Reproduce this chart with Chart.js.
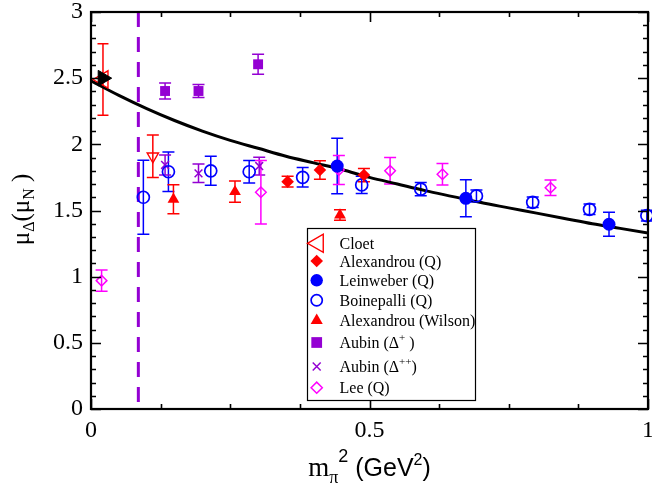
<!DOCTYPE html>
<html><head><meta charset="utf-8">
<script src="https://cdn.jsdelivr.net/npm/chart.js@4.4.1/dist/chart.umd.min.js"></script>
<style>html,body{margin:0;padding:0;background:#fff;overflow:hidden}#wrap{width:652px;height:489px}</style>
</head><body><div id="wrap"><canvas id="c" width="652" height="489"></canvas></div>
<script>
// ---------- data ----------
const physX = [0.021], physY = [2.50];
const cloetX = [0.0215], cloetY = [2.49], cloetErr = [0.27];
const cloetDownX = [0.111], cloetDownY = [1.91], cloetDownErr = [0.16];
const alexQX = [0.353, 0.411, 0.490], alexQY = [1.718, 1.806, 1.768], alexQErr = [0.04, 0.07, 0.05];
const leinX = [0.442, 0.673, 0.930], leinY = [1.836, 1.592, 1.396], leinErr = [0.21, 0.14, 0.09];
const boinX = [0.094, 0.139, 0.215, 0.284, 0.380, 0.486, 0.592, 0.692, 0.793, 0.895, 0.998];
const boinY = [1.60, 1.793, 1.80, 1.793, 1.751, 1.693, 1.662, 1.61, 1.562, 1.509, 1.461];
const boinErr = [0.28, 0.15, 0.11, 0.085, 0.074, 0.065, 0.05, 0.045, 0.04, 0.04, 0.04];
const alexWX = [0.148, 0.2585, 0.447], alexWY = [1.585, 1.642, 1.466], alexWErr = [0.11, 0.08, 0.04];
const aubinPX = [0.133, 0.193, 0.300], aubinPY = [2.403, 2.403, 2.605], aubinPErr = [0.06, 0.05, 0.075];
const aubinPPX = [0.133, 0.193, 0.302], aubinPPY = [1.844, 1.781, 1.836], aubinPPErr = [0.076, 0.07, 0.067];
const leeX = [0.019, 0.305, 0.445, 0.537, 0.631, 0.825];
const leeY = [0.970, 1.638, 1.806, 1.80, 1.774, 1.672];
const leeErr = [0.08, 0.24, 0.11, 0.10, 0.082, 0.058];
const fitX = [0, 0.05, 0.1, 0.15, 0.2, 0.25, 0.3, 0.35, 0.4, 0.45, 0.5, 0.55, 0.6, 0.65, 0.7, 0.75, 0.8, 0.85, 0.9, 0.95, 1.0];
const fitY = [2.48, 2.37, 2.27, 2.18, 2.10, 2.03, 1.97, 1.91, 1.86, 1.81, 1.75, 1.70, 1.65, 1.605, 1.56, 1.52, 1.48, 1.44, 1.40, 1.365, 1.33];
const cutX = [0.085, 0.085], cutY = [3, 0];
const xTickValues = [0, 0.5, 1], xTickLabels = ['0', '0.5', '1'];
const yTickValues = [0, 0.5, 1, 1.5, 2, 2.5, 3], yTickLabels = ['0', '0.5', '1', '1.5', '2', '2.5', '3'];
const legendLabels = ['Cloet', 'Alexandrou (Q)', 'Leinweber (Q)', 'Boinepalli (Q)', 'Alexandrou (Wilson)', 'Aubin (\u0394^{+} )', 'Aubin (\u0394^{++})', 'Lee (Q)'];

// ---------- styles ----------
const RED = '#ff0000', BLUE = '#0000ff', VIOLET = '#9400d3', MAGENTA = '#ff00ff', NONE = 'rgba(0,0,0,0)';
const SERIF = "'Liberation Serif','Times New Roman',serif";
const SANS = "'Liberation Sans',Arial,sans-serif";
const pts = (xs, ys) => xs.map((x, i) => ({x: x, y: ys[i]}));

function marker(o) {
  return Object.assign({showLine: false, clip: false, borderWidth: 0}, o);
}

const datasets = [
  marker({label: 'physical', data: pts(physX, physY), pointStyle: 'triangle', pointRotation: 90, pointRadius: 9,
    pointBackgroundColor: '#000', pointBorderColor: '#000', pointBorderWidth: 1}),
  marker({label: 'Cloet', legendIndex: 0, data: pts(cloetX, cloetY), errors: cloetErr, errColor: RED, cap: 5.5,
    pointStyle: 'triangle', pointRotation: -90, pointRadius: 10, legendRadius: 10.5, legendDx: 1.3,
    pointBackgroundColor: NONE, pointBorderColor: RED, pointBorderWidth: 1.4}),
  marker({label: 'Cloet (2)', data: pts(cloetDownX, cloetDownY), errors: cloetDownErr, errColor: RED,
    pointStyle: 'triangle', pointRotation: 180, pointRadius: 6.5,
    pointBackgroundColor: NONE, pointBorderColor: RED, pointBorderWidth: 1.4}),
  marker({label: 'Alexandrou (Q)', legendIndex: 1, data: pts(alexQX, alexQY), errors: alexQErr, errColor: RED,
    pointStyle: 'rectRot', pointRadius: 6.3, legendRadius: 6.3,
    pointBackgroundColor: RED, pointBorderColor: RED, pointBorderWidth: 0}),
  marker({label: 'Leinweber (Q)', legendIndex: 2, data: pts(leinX, leinY), errors: leinErr, errColor: BLUE,
    pointStyle: 'circle', pointRadius: 6.5, legendRadius: 6.2,
    pointBackgroundColor: BLUE, pointBorderColor: BLUE, pointBorderWidth: 0}),
  marker({label: 'Boinepalli (Q)', legendIndex: 3, data: pts(boinX, boinY), errors: boinErr, errColor: BLUE,
    pointStyle: 'circle', pointRadius: 6, legendRadius: 5.6,
    pointBackgroundColor: NONE, pointBorderColor: BLUE, pointBorderWidth: 1.7}),
  marker({label: 'Alexandrou (Wilson)', legendIndex: 4, data: pts(alexWX, alexWY), errors: alexWErr, errColor: RED,
    pointStyle: 'triangle', pointRadius: 6.8, legendRadius: 7,
    pointBackgroundColor: RED, pointBorderColor: RED, pointBorderWidth: 0}),
  marker({label: 'Aubin (\u0394+)', legendIndex: 5, data: pts(aubinPX, aubinPY), errors: aubinPErr, errColor: VIOLET,
    pointStyle: 'rect', pointRadius: 7, legendRadius: 7.6,
    pointBackgroundColor: VIOLET, pointBorderColor: VIOLET, pointBorderWidth: 0}),
  marker({label: 'Aubin (\u0394++)', legendIndex: 6, data: pts(aubinPPX, aubinPPY), errors: aubinPPErr, errColor: VIOLET,
    pointStyle: 'crossRot', pointRadius: 5.5, legendRadius: 5.6,
    pointBackgroundColor: VIOLET, pointBorderColor: VIOLET, pointBorderWidth: 1.5}),
  marker({label: 'Lee (Q)', legendIndex: 7, data: pts(leeX, leeY), errors: leeErr, errColor: MAGENTA,
    pointStyle: 'rectRot', pointRadius: 5.3, legendRadius: 5.6,
    pointBackgroundColor: NONE, pointBorderColor: MAGENTA, pointBorderWidth: 1.5}),
  {label: 'fit', data: pts(fitX, fitY), showLine: true, pointRadius: 0, borderColor: '#000', borderWidth: 3,
    cubicInterpolationMode: 'monotone', fill: false},
  {label: 'cut', data: pts(cutX, cutY), showLine: true, pointRadius: 0, borderColor: VIOLET, borderWidth: 3,
    borderDash: [15, 10], fill: false}
];

// ---------- helpers ----------
function drawRich(ctx, pieces, x, y, align) {
  let total = 0;
  pieces.forEach(p => { ctx.font = p.font; p.w = ctx.measureText(p.t).width; total += p.w; });
  let cx = align === 'center' ? x - total / 2 : x;
  ctx.textAlign = 'left'; ctx.textBaseline = 'alphabetic';
  pieces.forEach(p => { ctx.font = p.font; ctx.fillText(p.t, cx, y + (p.dy || 0)); cx += p.w; });
}
function parseLabel(s, size) {
  const out = []; const re = /\^\{([^}]*)\}/g; let last = 0, m;
  while ((m = re.exec(s)) !== null) {
    if (m.index > last) out.push({t: s.slice(last, m.index), font: size + 'px ' + SERIF});
    out.push({t: m[1], font: Math.round(size * 0.68) + 'px ' + SERIF, dy: -size * 0.45});
    last = re.lastIndex;
  }
  if (last < s.length) out.push({t: s.slice(last), font: size + 'px ' + SERIF});
  return out;
}

// ---------- plugins ----------
const errorBars = {
  id: 'errorBars',
  beforeDatasetsDraw(chart) {
    const ctx = chart.ctx, xs = chart.scales.x, ys = chart.scales.y;
    chart.data.datasets.forEach(ds => {
      if (!ds.errors) return;
      const cap = ds.cap || 6;
      ctx.save(); ctx.strokeStyle = ds.errColor; ctx.lineWidth = 1.5;
      ds.data.forEach((p, j) => {
        const e = ds.errors[j];
        const px = xs.getPixelForValue(p.x);
        const y1 = ys.getPixelForValue(p.y + e), y2 = ys.getPixelForValue(p.y - e);
        ctx.beginPath();
        ctx.moveTo(px, y1); ctx.lineTo(px, y2);
        ctx.moveTo(px - cap, y1); ctx.lineTo(px + cap, y1);
        ctx.moveTo(px - cap, y2); ctx.lineTo(px + cap, y2);
        ctx.stroke();
      });
      ctx.restore();
    });
  }
};

const frameTicks = {
  id: 'frameTicks',
  afterDraw(chart) {
    const ctx = chart.ctx, a = chart.chartArea, xs = chart.scales.x, ys = chart.scales.y;
    ctx.save();
    ctx.strokeStyle = '#000'; ctx.lineWidth = 1.6;
    ctx.beginPath();
    for (let i = 0; i <= 30; i++) {
      const v = i / 10, py = Math.round(ys.getPixelForValue(v)) + 0.5;
      const L = (i % 5 === 0) ? 10 : 5;
      ctx.moveTo(a.left, py); ctx.lineTo(a.left + L, py);
      ctx.moveTo(a.right, py); ctx.lineTo(a.right - L, py);
    }
    for (let i = 0; i <= 8; i++) {
      const v = i / 8, px = Math.round(xs.getPixelForValue(v)) + 0.5;
      const L = (i % 4 === 0) ? 10 : 5;
      ctx.moveTo(px, a.bottom); ctx.lineTo(px, a.bottom - L);
      ctx.moveTo(px, a.top); ctx.lineTo(px, a.top + L);
    }
    ctx.stroke();
    ctx.lineWidth = 2.2;
    ctx.strokeRect(a.left, a.top, a.right - a.left, a.bottom - a.top);
    ctx.restore();
  }
};

const titles = {
  id: 'titles',
  afterDraw(chart) {
    const ctx = chart.ctx, a = chart.chartArea;
    ctx.save(); ctx.fillStyle = '#000';
    // x title
    drawRich(ctx, [
      {t: 'm', font: '27px ' + SERIF},
      {t: '\u03c0', font: '18px ' + SERIF, dy: 7},
      {t: '2', font: '18px ' + SANS, dy: -14},
      {t: ' (GeV', font: '25px ' + SANS},
      {t: '2', font: '16px ' + SANS, dy: -11},
      {t: ')', font: '25px ' + SANS}
    ], (a.left + a.right) / 2, 476, 'center');
    // y title
    ctx.translate(29, (a.top + a.bottom) / 2 - 1);
    ctx.rotate(-Math.PI / 2);
    drawRich(ctx, [
      {t: '\u03bc', font: '25px ' + SERIF},
      {t: '\u0394', font: '16px ' + SERIF, dy: 5},
      {t: '(\u03bc', font: '25px ' + SERIF},
      {t: 'N', font: '16px ' + SERIF, dy: 5},
      {t: ' )', font: '25px ' + SERIF}
    ], 0, 0, 'center');
    ctx.restore();
  }
};

const LEG = {x: 307.5, y: 228.5, w: 168, h: 172, symX: 316.7, textX: 339.5,
  rows: [243.3, 261, 280.3, 300.3, 320.5, 342.5, 366.5, 387.7]};
const boxLegend = {
  id: 'boxLegend',
  afterDraw(chart) {
    const ctx = chart.ctx;
    ctx.save();
    ctx.fillStyle = '#fff'; ctx.fillRect(LEG.x, LEG.y, LEG.w, LEG.h);
    ctx.strokeStyle = '#000'; ctx.lineWidth = 1.2; ctx.strokeRect(LEG.x, LEG.y, LEG.w, LEG.h);
    chart.data.datasets.forEach(ds => {
      if (ds.legendIndex === undefined) return;
      const k = ds.legendIndex, cy = LEG.rows[k];
      ctx.save();
      ctx.fillStyle = ds.pointBackgroundColor; ctx.strokeStyle = ds.pointBorderColor;
      ctx.lineWidth = ds.pointBorderWidth || 1;
      Chart.helpers.drawPoint(ctx, {pointStyle: ds.pointStyle, rotation: ds.pointRotation || 0,
        radius: ds.legendRadius, borderWidth: ds.pointBorderWidth}, LEG.symX + (ds.legendDx || 0), cy);
      ctx.restore();
      ctx.fillStyle = '#000';
      drawRich(ctx, parseLabel(legendLabels[k], 16), LEG.textX, cy + 5.5, 'left');
    });
    ctx.restore();
  }
};

function zeroPad(s) { s.paddingLeft = 0; s.paddingRight = 0; s.paddingTop = 0; s.paddingBottom = 0; }

// ---------- chart ----------
new Chart(document.getElementById('c'), {
  type: 'scatter',
  data: {datasets: datasets},
  options: {
    responsive: false, animation: false, devicePixelRatio: 1,
    layout: {padding: {top: 12, right: 4, left: 0, bottom: 0}, autoPadding: false},
    plugins: {legend: {display: false}, tooltip: {enabled: false}},
    scales: {
      x: {type: 'linear', min: 0, max: 1,
        grid: {display: false, drawTicks: false}, border: {display: false},
        afterBuildTicks: s => { s.ticks = xTickValues.map(v => ({value: v})); },
        afterFit: s => { s.height = 80; zeroPad(s); },
        ticks: {padding: 7, color: '#000', maxRotation: 0, autoSkip: false,
          font: {family: SERIF, size: 24},
          callback: (v) => xTickLabels[xTickValues.indexOf(v)]}},
      y: {type: 'linear', min: 0, max: 3,
        grid: {display: false, drawTicks: false}, border: {display: false},
        afterBuildTicks: s => { s.ticks = yTickValues.map(v => ({value: v})); },
        afterFit: s => { s.width = 91; zeroPad(s); },
        ticks: {padding: 8, color: '#000', autoSkip: false,
          font: {family: SERIF, size: 24},
          callback: (v) => yTickLabels[yTickValues.indexOf(v)]}}
    }
  },
  plugins: [errorBars, frameTicks, titles, boxLegend]
});
</script></body></html>
